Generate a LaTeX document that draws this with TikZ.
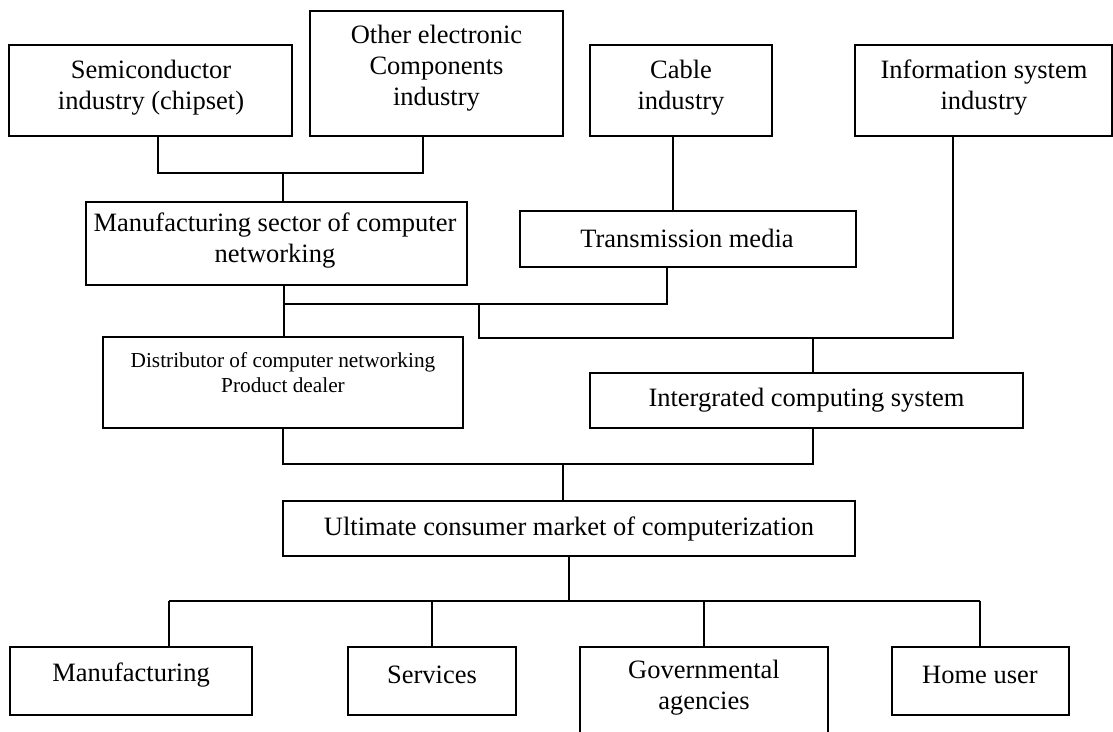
\documentclass[tikz,border=0pt]{standalone}
\usepackage{fontspec}
\setmainfont{Liberation Serif}
\begin{document}
\begin{tikzpicture}[x=1pt,y=-1pt,
  box/.style={draw, line width=1.6pt, inner sep=0pt},
  lbl/.style={align=center, inner sep=0pt, font=\fontsize{26.5}{31}\selectfont},
  lblsmall/.style={align=center, inner sep=0pt, font=\fontsize{21.3}{25}\selectfont},
  thk/.style={line width=2.8pt},
  thn/.style={line width=2pt}]
\useasboundingbox (0,0) rectangle (1113,731);
\clip (0,0) rectangle (1113,731);
% boxes
\node[box, minimum width=283, minimum height=91] (sem) at (150.5,90.5) {};
\node[box, minimum width=253, minimum height=125] (oth) at (436.5,73.5) {};
\node[box, minimum width=182, minimum height=91] (cab) at (681,90.5) {};
\node[box, minimum width=257, minimum height=91] (info) at (983.5,90.5) {};
\node[box, minimum width=381, minimum height=83] (msec) at (276.5,243.5) {};
\node[box, minimum width=336, minimum height=56] (trans) at (688,239) {};
\node[box, minimum width=360, minimum height=91] (dist) at (283,382.5) {};
\node[box, minimum width=433, minimum height=55] (integ) at (806.5,400.5) {};
\node[box, minimum width=572, minimum height=55] (ult) at (569,528.5) {};
\node[box, minimum width=242, minimum height=68] (manu) at (131,681) {};
\node[box, minimum width=168, minimum height=68] (serv) at (432,681) {};
\node[box, minimum width=248, minimum height=103] (gov) at (704,698.5) {};
\node[box, minimum width=177, minimum height=68] (home) at (980.5,681) {};
% texts
\node[lbl] (sem-t) at (151,87.5) {Semiconductor\\industry (chipset)};
\node[lbl] (oth-t) at (436.5,68.5) {Other electronic\\Components\\industry};
\node[lbl] (cab-t) at (681,87.5) {Cable\\industry};
\node[lbl] (info-t) at (984,87.5) {Information system\\industry};
\node[lbl] (msec-t) at (275,241) {Manufacturing sector of computer\\networking};
\node[lbl] (trans-t) at (687,238) {Transmission media};
\node[lblsmall] (dist-t) at (283,372.5) {Distributor of computer networking\\Product dealer};
\node[lbl] (integ-t) at (806.5,400) {Intergrated computing system};
\node[lbl] (ult-t) at (569,529) {Ultimate consumer market of computerization};
\node[lbl] (manu-t) at (131,675) {Manufacturing};
\node[lbl] (serv-t) at (432,675) {Services};
\node[lbl] (gov-t) at (704,688) {Governmental\\agencies};
\node[lbl] (home-t) at (980,675) {Home user};
% junction coordinates
\coordinate (sa) at (158,173);
\coordinate (oa) at (423,173);
\coordinate (ma) at (283,173);
\coordinate (ca) at (673,0);
\coordinate (mb) at (284,304);
\coordinate (tb) at (667,304);
\coordinate (xb) at (479,304);
\coordinate (xc) at (479,338);
\coordinate (ic) at (953,338);
\coordinate (gc) at (813,338);
\coordinate (dd) at (283,464);
\coordinate (gd) at (813,464);
\coordinate (ud) at (563,464);
\coordinate (ue) at (569,601);
\coordinate (e1) at (169,601);
\coordinate (e4) at (980,601);
% connectors
\draw[thk] (sem.south -| sa) -- (sa) -- (oa) -- (oth.south -| oa);
\draw[thk] (ma) -- (msec.north -| ma);
\draw[thk] (cab.south -| ca) -- (trans.north -| ca);
\draw[thk] (msec.south -| mb) -- (dist.north -| mb);
\draw[thk] (mb) -- (tb) -- (trans.south -| tb);
\draw[thk] (xb) -- (xc) -- (ic) -- (info.south -| ic);
\draw[thk] (gc) -- (integ.north -| gc);
\draw[thk] (dist.south -| dd) -- (dd) -- (gd) -- (integ.south -| gd);
\draw[thk] (ud) -- (ult.north -| ud);
\draw[thn] (ult.south -| ue) -- (ue);
\draw[thn] (e1) -- (e4);
\draw[thn] (e1) -- (manu.north -| e1);
\draw[thn] (serv.north |- e1) -- (serv.north);
\draw[thn] (gov.north |- e1) -- (gov.north);
\draw[thn] (e4) -- (home.north -| e4);
\end{tikzpicture}
\end{document}
